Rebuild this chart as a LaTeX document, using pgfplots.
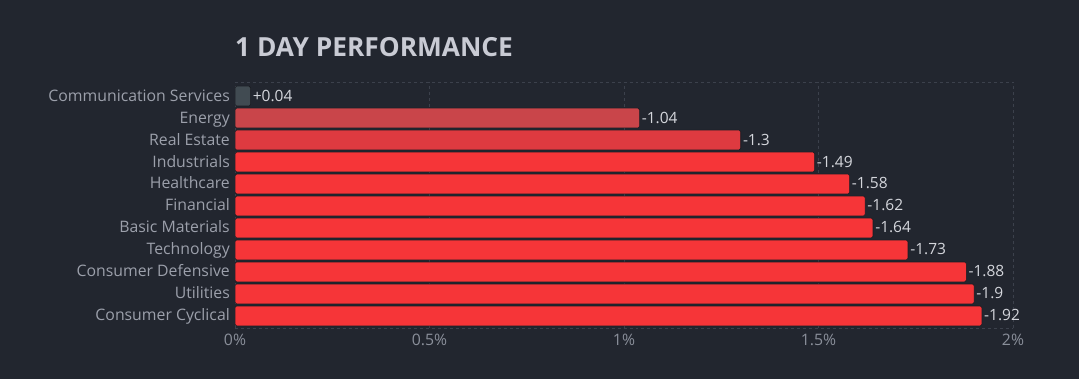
\documentclass[border=0pt]{standalone}
\usepackage{pgfplots}
\pgfplotsset{compat=1.18}
\usepackage{fontspec}
\setmainfont{Open Sans}
\definecolor{bg}{HTML}{22262F}
\definecolor{gridc}{HTML}{3C414C}
\definecolor{lbl}{HTML}{9CA0AB}
\definecolor{tck}{HTML}{8A8F9A}
\definecolor{val}{HTML}{D4D6DC}
\definecolor{ttl}{HTML}{C9CBD4}
\definecolor{cgray}{HTML}{414B52}
\definecolor{cdark}{HTML}{C9454A}
\definecolor{cmid}{HTML}{DE3A40}
\definecolor{cred}{HTML}{F63538}
\definecolor{edge}{HTML}{1A1C22}
\begin{document}
\begin{tikzpicture}
\fill[bg] (0,0) rectangle (1079bp,379bp);
\useasboundingbox (0,0) rectangle (1079bp,379bp);
\node[anchor=base west, font=\fontsize{26.3bp}{30bp}\selectfont\bfseries, text=ttl, inner sep=0pt] at (235bp,322bp) {1 DAY PERFORMANCE};
\begin{axis}[
  at={(235bp,51bp)}, anchor=south west,
  scale only axis, width=778bp, height=246bp,
  xmin=0, xmax=2, ymin=-0.55, ymax=10.64,
  xbar, bar width=0.9, bar shift=0pt,
  xtick={0,0.5,1,1.5,2},
  xticklabels={0\%,0.5\%,1\%,1.5\%,2\%},
  ytick={0,...,10},
  yticklabels={Consumer Cyclical,Utilities,Consumer Defensive,Technology,Basic Materials,Financial,Healthcare,Industrials,Real Estate,Energy,Communication Services},
  major tick length=0pt,
  tick label style={font=\fontsize{15.8bp}{18bp}\selectfont},
  xticklabel style={text=tck, inner sep=0pt, yshift=-6bp},
  yticklabel style={text=lbl, inner sep=0pt, xshift=-5bp, yshift=-2.5bp, text height=0.72em, text depth=0.22em},
  separate axis lines,
  x axis line style={draw=gridc, dashed},
  y axis line style={draw=none},
  xmajorgrids, grid style={draw=gridc, dashed},
  point meta=explicit symbolic,
  nodes near coords,
  nodes near coords style={font=\fontsize{15.5bp}{18bp}\selectfont, text=val, anchor=west, inner xsep=2bp, yshift=-2.5bp, text height=0.72em, text depth=0.22em},
  every axis plot/.append style={draw=edge, line width=0.6pt, rounded corners=1.5bp},
]
\addplot[fill=cgray] coordinates {(0.04,10) [+0.04]};
\addplot[fill=cdark] coordinates {(1.04,9) [-1.04]};
\addplot[fill=cmid] coordinates {(1.3,8) [-1.3]};
\addplot[fill=cred] coordinates {
(1.49,7) [-1.49]
(1.58,6) [-1.58]
(1.62,5) [-1.62]
(1.64,4) [-1.64]
(1.73,3) [-1.73]
(1.88,2) [-1.88]
(1.9,1) [-1.9]
(1.92,0) [-1.92]
};
\end{axis}
\end{tikzpicture}
\end{document}
